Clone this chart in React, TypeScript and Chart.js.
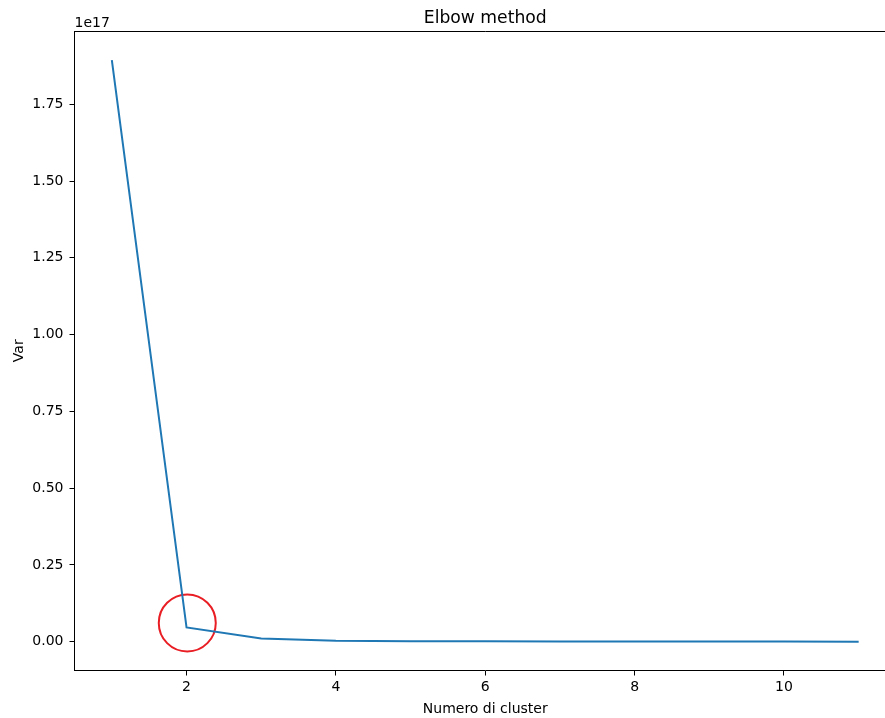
import React, { useEffect, useRef } from "react";
import { Chart, registerables } from "chart.js";

Chart.register(...registerables);

const clusters = [1, 2, 3, 4, 5, 6, 7, 8, 9, 10, 11];
const variance = [1.894e17, 0.0466e17, 0.0108e17, 0.0033e17, 0.0018e17, 0.0011e17, 0.0008e17, 0.0006e17, 0.0004e17, 0.0003e17, 0.0002e17];
const elbowMarker = [{ x: 2.01, y: 0.061e17 }];
const xTicks = [2, 4, 6, 8, 10];
const yTicks = [0, 0.25e17, 0.5e17, 0.75e17, 1.0e17, 1.25e17, 1.5e17, 1.75e17];
const titleText = "Elbow method";
const xLabel = "Numero di cluster";
const yLabel = "Var";
const offsetText = "1e17";

const FONT = "DejaVu Sans";

export default function App() {
  const ref = useRef<HTMLCanvasElement>(null);
  useEffect(() => {
    const canvas = ref.current!;
    const textPlugin = {
      id: "texts",
      afterDraw(chart: any) {
        const ctx = chart.ctx;
        const a = chart.chartArea;
        ctx.save();
        ctx.strokeStyle = "#000";
        ctx.lineWidth = 1;
        ctx.beginPath();
        ctx.moveTo(a.left, Math.round(a.top) + 0.5);
        ctx.lineTo(a.right, Math.round(a.top) + 0.5);
        ctx.stroke();
        const cx = (a.left + a.right) / 2;
        ctx.fillStyle = "#000";
        ctx.textAlign = "center";
        ctx.textBaseline = "alphabetic";
        ctx.font = `17.2px '${FONT}'`;
        ctx.fillText(titleText, cx, 22.7);
        ctx.font = `14px '${FONT}'`;
        ctx.fillText(xLabel, cx, 712.7);
        ctx.textAlign = "left";
        ctx.fillText(offsetText, a.left, 26.7);
        ctx.translate(22.5, (a.top + a.bottom) / 2);
        ctx.rotate(-Math.PI / 2);
        ctx.textAlign = "center";
        ctx.fillText(yLabel, 0, 0);
        ctx.restore();
      },
    };
    const chart = new Chart(canvas, {
      type: "line",
      data: {
        datasets: [
          {
            type: "line",
            data: clusters.map((c, i) => ({ x: c, y: variance[i] })),
            borderColor: "#1f77b4",
            borderWidth: 2,
            pointRadius: 0,
            tension: 0,
            fill: false,
          },
          {
            type: "scatter",
            data: elbowMarker,
            pointStyle: "circle",
            pointRadius: 28.5,
            pointBorderWidth: 2,
            pointBorderColor: "rgb(232,30,36)",
            pointBackgroundColor: "rgba(0,0,0,0)",
          } as any,
        ],
      },
      plugins: [textPlugin],
      options: {
        animation: false,
        responsive: true,
        maintainAspectRatio: false,
        events: [],
        layout: { autoPadding: false, padding: { left: 0, top: 31, right: 4, bottom: 0 } },
        plugins: { legend: { display: false }, tooltip: { enabled: false }, title: { display: false } },
        scales: {
          x: {
            type: "linear",
            min: 0.5,
            max: 11.5,
            afterBuildTicks: (s: any) => {
              s.ticks = xTicks.map((v) => ({ value: v }));
            },
            afterFit: (s: any) => {
              s.height = 47.5;
              s.paddingLeft = 0;
              s.paddingRight = 0;
            },
            ticks: {
              color: "#000",
              font: { family: FONT, size: 14 },
              padding: 3,
              maxRotation: 0,
              autoSkip: false,
              callback: (v: any) => String(v),
            },
            grid: { drawOnChartArea: false, drawTicks: true, tickLength: 5, tickColor: "#000", tickWidth: 1 },
            border: { display: true, color: "#000", width: 1 },
          },
          y: {
            type: "linear",
            min: -0.0938e17,
            max: 1.9887e17,
            afterBuildTicks: (s: any) => {
              s.ticks = yTicks.map((v) => ({ value: v }));
            },
            afterFit: (s: any) => {
              s.width = 74.5;
              s.paddingTop = 0;
              s.paddingBottom = 0;
            },
            ticks: {
              color: "#000",
              font: { family: FONT, size: 14 },
              padding: 6,
              autoSkip: false,
              callback: (v: any) => (Number(v) / 1e17).toFixed(2),
            },
            grid: { drawOnChartArea: false, drawTicks: true, tickLength: 5, tickColor: "#000", tickWidth: 1 },
            border: { display: true, color: "#000", width: 1 },
          },
        },
      },
    });
    return () => chart.destroy();
  }, []);
  return (
    <div style={{ position: "absolute", left: 0, top: 0, width: 885, height: 718, overflow: "hidden", background: "#fff" }}>
      <div style={{ position: "relative", width: 900, height: 718 }}>
        <canvas ref={ref} />
      </div>
    </div>
  );
}
